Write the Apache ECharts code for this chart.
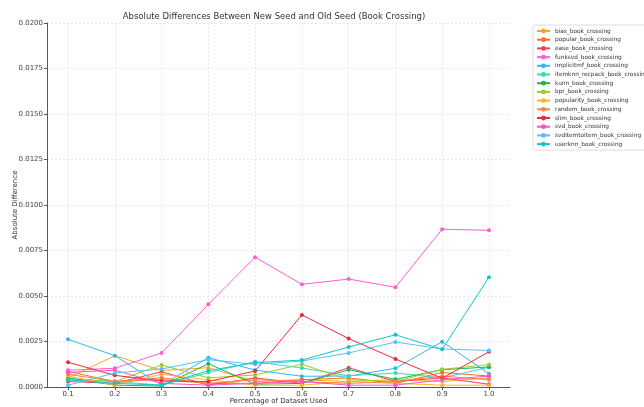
<!DOCTYPE html>
<html>
<head>
<meta charset="utf-8">
<script src="https://cdn.jsdelivr.net/npm/echarts@6/dist/echarts.min.js"></script>
<style>
  html, body { margin: 0; padding: 0; background: #fff; }
  #chart { width: 644px; height: 407px; }
</style>
</head>
<body>
<div id="chart"></div>
<script>
// Fractions of the dataset used
const fractions = [0.1, 0.2, 0.3, 0.4, 0.5, 0.6, 0.7, 0.8, 0.9, 1.0];
const yTicks = [0, 0.0025, 0.005, 0.0075, 0.01, 0.0125, 0.015, 0.0175, 0.02];

// Absolute difference per model
const bias_book_crossing          = [0.00050, 0.00172, 0.00091, 0.00106, 0.00030, 0.00040, 0.00030, 0.00040, 0.00030, 0.00050];
const popular_book_crossing       = [0.00085, 0.00030, 0.00050, 0.00020, 0.00020, 0.00040, 0.00050, 0.00020, 0.00080, 0.00060];
const ease_book_crossing          = [0.00030, 0.00020, 0.00084, 0.00010, 0.00050, 0.00020, 0.00106, 0.00030, 0.00050, 0.00015];
const funksvd_book_crossing       = [0.00092, 0.00103, 0.00187, 0.00454, 0.00713, 0.00564, 0.00593, 0.00548, 0.00867, 0.00861];
const implicitmf_book_crossing    = [0.00262, 0.00172, 0.00010, 0.00161, 0.00093, 0.00059, 0.00060, 0.00103, 0.00249, 0.00073];
const itemknn_recpack_book_crossing = [0.00045, 0.00030, 0.00010, 0.00079, 0.00139, 0.00104, 0.00062, 0.00077, 0.00050, 0.00108];
const kunn_book_crossing          = [0.00050, 0.00010, 0.00005, 0.00128, 0.00015, 0.00020, 0.00095, 0.00042, 0.00095, 0.00110];
const bpr_book_crossing           = [0.00040, 0.00030, 0.00121, 0.00050, 0.00066, 0.00125, 0.00040, 0.00030, 0.00097, 0.00123];
const popularity_book_crossing    = [0.00060, 0.00010, 0.00070, 0.00040, 0.00010, 0.00010, 0.00030, 0.00020, 0.00010, 0.00010];
const random_book_crossing        = [0.00070, 0.00030, 0.00040, 0.00020, 0.00040, 0.00030, 0.00020, 0.00030, 0.00060, 0.00040];
const slim_book_crossing          = [0.00136, 0.00064, 0.00033, 0.00030, 0.00088, 0.00396, 0.00266, 0.00154, 0.00048, 0.00194];
const svd_book_crossing           = [0.00081, 0.00092, 0.00020, 0.00010, 0.00020, 0.00030, 0.00010, 0.00010, 0.00040, 0.00060];
const svditemtoitem_book_crossing = [0.00010, 0.00077, 0.00099, 0.00150, 0.00125, 0.00143, 0.00187, 0.00247, 0.00209, 0.00201];
const userknn_book_crossing       = [0.00040, 0.00020, 0.00010, 0.00090, 0.00134, 0.00148, 0.00220, 0.00287, 0.00207, 0.00603];

const seriesNames = [
  'bias_book_crossing', 'popular_book_crossing', 'ease_book_crossing', 'funksvd_book_crossing',
  'implicitmf_book_crossing', 'itemknn_recpack_book_crossing', 'kunn_book_crossing', 'bpr_book_crossing',
  'popularity_book_crossing', 'random_book_crossing', 'slim_book_crossing', 'svd_book_crossing',
  'svditemtoitem_book_crossing', 'userknn_book_crossing'
];
const seriesValues = [
  bias_book_crossing, popular_book_crossing, ease_book_crossing, funksvd_book_crossing,
  implicitmf_book_crossing, itemknn_recpack_book_crossing, kunn_book_crossing, bpr_book_crossing,
  popularity_book_crossing, random_book_crossing, slim_book_crossing, svd_book_crossing,
  svditemtoitem_book_crossing, userknn_book_crossing
];
const seriesColors = [
  '#FFA51F', '#FF6A2B', '#F23F5C', '#FF5FCB', '#2FB7F5', '#3BD6C6', '#1FB24F',
  '#96CF26', '#FFB424', '#FF7F45', '#F0263F', '#FF52C4', '#52C2FA', '#14C6C6'
];

const chart = echarts.init(document.getElementById('chart'), null, { renderer: 'canvas' });

const series = seriesNames.map((name, i) => ({
  name: name,
  type: 'line',
  data: fractions.map((x, j) => [x, seriesValues[i][j]]),
  symbol: 'circle',
  symbolSize: 4,
  showSymbol: true,
  lineStyle: { width: 1, color: seriesColors[i] },
  itemStyle: { color: seriesColors[i] },
  emphasis: { disabled: true },
  animation: false
}));

chart.setOption({
  animation: false,
  backgroundColor: '#ffffff',
  title: {
    text: 'Absolute Differences Between New Seed and Old Seed (Book Crossing)',
    left: 269, top: 7, textAlign: 'center',
    textStyle: { fontFamily: 'DejaVu Sans', fontSize: 8.5, fontWeight: 'normal', color: '#333' }
  },
  legend: {
    orient: 'vertical',
    left: 533, top: 25,
    padding: [3, 2, 3, 3],
    itemGap: 2.7,
    itemWidth: 13, itemHeight: 6,
    borderColor: '#dddddd', borderWidth: 1, borderRadius: 2,
    textStyle: { fontFamily: 'DejaVu Sans', fontSize: 5.8, color: '#333' },
    data: seriesNames
  },
  grid: { left: 47, right: 134, top: 23, bottom: 20, outerBoundsMode: 'none', containLabel: false },
  xAxis: {
    type: 'value',
    min: 0.055, max: 1.045,
    name: 'Percentage of Dataset Used',
    nameLocation: 'middle', nameGap: 11, nameMoveOverlap: false,
    nameTextStyle: { fontFamily: 'DejaVu Sans', fontSize: 7, color: '#333' },
    axisLine: { lineStyle: { color: '#555', width: 1 } },
    axisTick: { show: true, length: 3, lineStyle: { color: '#555' }, customValues: fractions },
    axisLabel: {
      customValues: fractions, fontFamily: 'DejaVu Sans', fontSize: 7, color: '#444', margin: 4,
      formatter: v => v.toFixed(1)
    },
    splitLine: { show: true, lineStyle: { color: '#e3e3e3', type: [2, 2], width: 0.8 } }
  },
  yAxis: {
    type: 'value',
    min: 0, max: 0.02, interval: 0.0025,
    name: 'Absolute Difference',
    nameLocation: 'middle', nameGap: 28, nameMoveOverlap: false,
    nameTextStyle: { fontFamily: 'DejaVu Sans', fontSize: 7, color: '#333' },
    axisLine: { show: true, lineStyle: { color: '#555', width: 1 } },
    axisTick: { show: true, length: 3, lineStyle: { color: '#555' } },
    axisLabel: {
      fontFamily: 'DejaVu Sans', fontSize: 7, color: '#444', margin: 4,
      formatter: v => v.toFixed(4)
    },
    splitLine: { show: true, lineStyle: { color: '#e3e3e3', type: [2, 2], width: 0.8 } }
  },
  series: series
});
</script>
</body>
</html>
